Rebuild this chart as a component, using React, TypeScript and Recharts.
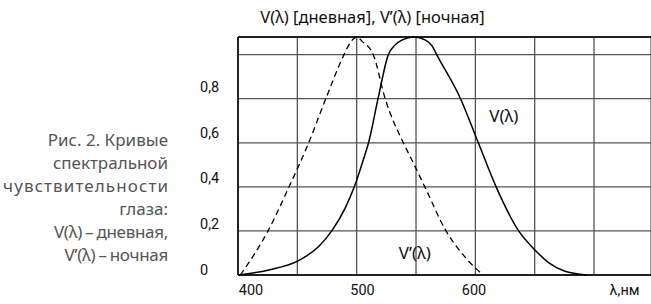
import React from "react";
import { LineChart, Line, XAxis, YAxis, CartesianGrid, ReferenceLine, ReferenceDot } from "recharts";

// V(λ) – photopic (day) curve, solid
const dayNm = [400, 426, 450.6, 468, 479, 490, 498, 505.6, 510, 518, 526.7, 532, 538, 548.3, 558, 563.5, 567.4, 587.5, 602.5, 617.5, 636.5, 650, 662, 675, 694];
const dayV = [0, 0.023, 0.064, 0.129, 0.2, 0.3, 0.4, 0.523, 0.6, 0.8, 1.0, 1.042, 1.066, 1.08, 1.066, 1.04, 1.0, 0.8, 0.6, 0.4, 0.2, 0.115, 0.055, 0.018, 0];

// V'(λ) – scotopic (night) curve, dashed
const nightNm = [402, 425.3, 443, 458, 474, 489.3, 495, 500, 505, 514, 524, 539.3, 546.4, 557.4, 575.3, 590, 600.3, 606.7];
const nightV = [0, 0.2, 0.4, 0.58, 0.8, 1.0, 1.058, 1.08, 1.058, 1.0, 0.8, 0.6, 0.523, 0.4, 0.2, 0.09, 0.03, 0];

const gridNm = [450, 500, 550, 600, 650, 700];
const gridV = [0.2, 0.4, 0.6, 0.8, 1.0];
const xTickValues = [400, 500, 600];
const xUnitTick = 735;
const xUnitLabel = "λ,нм";
const yTickValues = [0, 0.2, 0.4, 0.6, 0.8];

const titleText = "V(λ) [дневная], V’(λ) [ночная]";
const captionLines = ["Рис. 2. Кривые", "спектральной", "чувствительности", "глаза:", "V(λ) – дневная,", "V’(λ) – ночная"];
const dayLabel = "V(λ)";
const nightLabel = "V’(λ)";

const dayData = dayNm.map((nm, i) => ({ nm, v: dayV[i] }));
const nightData = nightNm.map((nm, i) => ({ nm, v: nightV[i] }));

const XTick = (props: any) => {
  const { x, y, payload } = props;
  const txt = payload.value === xUnitTick ? xUnitLabel : String(payload.value);
  return (
    <text x={x} y={y} dy={12} textAnchor="middle" fontFamily="Roboto" fontSize={14.5} fill="#111">
      {txt}
    </text>
  );
};

const YTick = (props: any) => {
  const { x, y, payload } = props;
  return (
    <text x={x - 30} y={y} dy={5} textAnchor="start" fontFamily="Roboto" fontSize={14.5} fill="#111">
      {String(payload.value).replace(".", ",")}
    </text>
  );
};

const captionStyle = (l: string): React.CSSProperties => {
  if (l.length === 16) return { letterSpacing: "1.1px", marginRight: "-1.1px" };
  if (l.startsWith("V")) return { letterSpacing: "-0.3px", wordSpacing: "-1px" };
  return {};
};

export default function App() {
  return (
    <div style={{ position: "fixed", left: 0, top: 0, width: 651, height: 304, overflow: "hidden", background: "#fff" }}>
      <div
        style={{
          position: "absolute",
          left: 240,
          width: 265,
          top: 5,
          textAlign: "center",
          fontFamily: "'Noto Sans'",
          fontSize: 16.5,
          lineHeight: "24px",
          color: "#111",
          whiteSpace: "nowrap",
        }}
      >
        {titleText}
      </div>
      <div
        style={{
          position: "absolute",
          right: 651 - 168,
          top: 128,
          textAlign: "right",
          fontFamily: "'Noto Sans'",
          fontSize: 17,
          lineHeight: "23px",
          color: "#555",
          whiteSpace: "nowrap",
        }}
      >
        {captionLines.map((l, i) => (
          <div key={i} style={captionStyle(l)}>{l}</div>
        ))}
      </div>
      <LineChart width={651} height={304} margin={{ top: 37, right: 0, bottom: 0, left: 0 }} style={{ position: "absolute", left: 0, top: 0 }}>
        <XAxis xAxisId="main" dataKey="nm" type="number" domain={[400, 748]} ticks={gridNm} hide />
        <YAxis yAxisId="main" type="number" domain={[0, 1.08]} ticks={gridV} hide />
        <XAxis
          xAxisId="lab"
          dataKey="nm"
          type="number"
          domain={[388.3, 758.7]}
          ticks={[...xTickValues, xUnitTick]}
          interval={0}
          height={29}
          tick={<XTick />}
          tickLine={false}
          axisLine={{ stroke: "#000", strokeWidth: 1.5 }}
          allowDataOverflow
        />
        <YAxis
          yAxisId="lab"
          type="number"
          domain={[-0.0219, 1.0186]}
          ticks={yTickValues}
          interval={0}
          width={238}
          tick={<YTick />}
          tickLine={false}
          axisLine={{ stroke: "#000", strokeWidth: 1.5 }}
          allowDataOverflow
        />
        <CartesianGrid xAxisId="main" yAxisId="main" stroke="#555" strokeWidth={1.3} />
        <ReferenceLine xAxisId="main" yAxisId="main" y={1.08} stroke="#000" strokeWidth={1.5} />
        <Line
          xAxisId="main"
          yAxisId="main"
          data={nightData}
          dataKey="v"
          type="monotone"
          stroke="#000"
          strokeWidth={1.3}
          strokeDasharray="6 4"
          dot={false}
          isAnimationActive={false}
        />
        <Line
          xAxisId="main"
          yAxisId="main"
          data={dayData}
          dataKey="v"
          type="monotone"
          stroke="#000"
          strokeWidth={1.5}
          dot={false}
          isAnimationActive={false}
        />
        <ReferenceDot
          xAxisId="main"
          yAxisId="main"
          x={624}
          y={0.723}
          r={1}
          fill="none"
          stroke="none"
          label={{ value: dayLabel, position: "center", fontFamily: "Noto Sans", fontSize: 17, fill: "#111" }}
        />
        <ReferenceDot
          xAxisId="main"
          yAxisId="main"
          x={549}
          y={0.1}
          r={1}
          fill="none"
          stroke="none"
          label={{ value: nightLabel, position: "center", fontFamily: "Noto Sans", fontSize: 17, fill: "#111" }}
        />
      </LineChart>
    </div>
  );
}
